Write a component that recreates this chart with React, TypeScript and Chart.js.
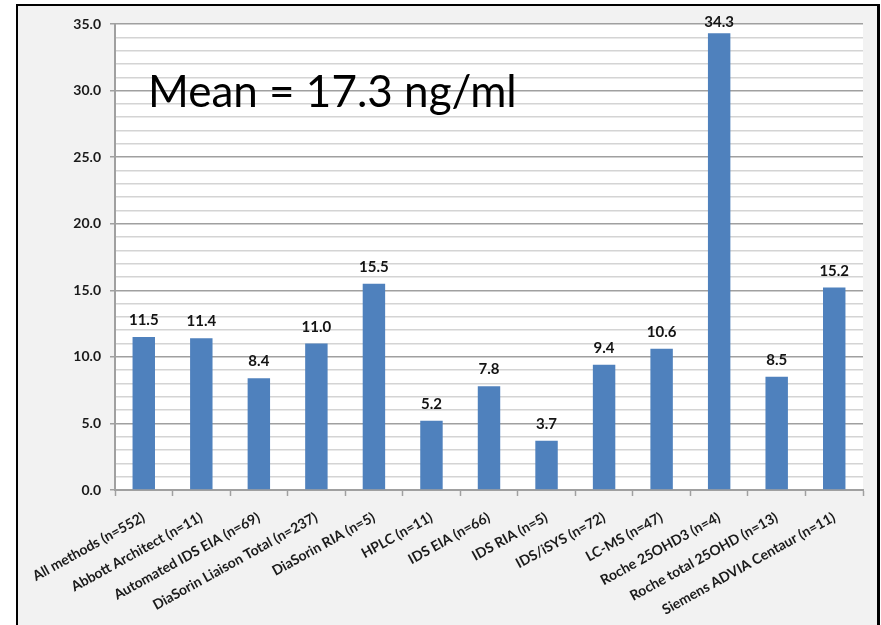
import React, { useEffect, useRef } from 'react';
import { Chart, registerables } from 'chart.js';

Chart.register(...registerables);

const categories = [
  'All methods (n=552)',
  'Abbott Architect (n=11)',
  'Automated IDS EIA (n=69)',
  'DiaSorin Liaison Total (n=237)',
  'DiaSorin RIA (n=5)',
  'HPLC (n=11)',
  'IDS EIA (n=66)',
  'IDS RIA (n=5)',
  'IDS/iSYS (n=72)',
  'LC-MS (n=47)',
  'Roche 25OHD3 (n=4)',
  'Roche total 25OHD (n=13)',
  'Siemens ADVIA Centaur (n=11)',
];
const values = [11.5, 11.4, 8.4, 11.0, 15.5, 5.2, 7.8, 3.7, 9.4, 10.6, 34.3, 8.5, 15.2];
const yMin = 0;
const yMax = 35;
const yMinorStep = 1;
const yMajorStep = 5;
const annotationText = 'Mean = 17.3 ng/ml';

const MAJOR = '#a0a0a0';
const MINOR = '#d4d4d4';

export default function App() {
  const ref = useRef<HTMLCanvasElement>(null);

  useEffect(() => {
    if (!ref.current) return;
    const overlay = {
      id: 'overlayText',
      afterDatasetsDraw(chart: any) {
        const ctx = chart.ctx;
        const area = chart.chartArea;
        const meta = chart.getDatasetMeta(0);
        ctx.save();
        ctx.font = 'bold 15px Lato';
        ctx.fillStyle = '#141414';
        ctx.textAlign = 'center';
        ctx.textBaseline = 'alphabetic';
        meta.data.forEach((bar: any, i: number) => {
          const y = Math.max(bar.y - 12, area.top + 3);
          ctx.fillText(values[i].toFixed(1), bar.x, y);
        });
        ctx.font = '44px Lato';
        ctx.fillStyle = '#000000';
        ctx.textAlign = 'left';
        ctx.fillText(annotationText, area.left + 33, area.top + 83);
        ctx.restore();
      },
    };

    const chart = new Chart(ref.current, {
      type: 'bar',
      data: {
        labels: categories,
        datasets: [
          {
            data: values,
            backgroundColor: '#4f81bd',
            borderWidth: 0,
            barPercentage: 0.39,
            categoryPercentage: 1.0,
          },
        ],
      },
      options: {
        animation: false,
        responsive: false,
        maintainAspectRatio: false,
        layout: { padding: { left: 60, right: 18, top: 24, bottom: 0 } },
        plugins: {
          legend: { display: false },
          tooltip: { enabled: false },
        },
        scales: {
          x: {
            afterFit(scale: any) {
              scale.height = 135;
            },
            grid: {
              drawOnChartArea: false,
              drawTicks: true,
              tickLength: 6,
              tickColor: MAJOR,
              tickWidth: 1.5,
              offset: true,
            },
            border: { display: true, color: MAJOR, width: 2 },
            ticks: {
              autoSkip: false,
              minRotation: 29,
              maxRotation: 29,
              padding: 13,
              color: '#1a1a1a',
              font: { family: 'Lato', size: 14, weight: 'bold' },
            },
          },
          y: {
            min: yMin,
            max: yMax,
            afterFit(scale: any) {
              scale.width = 55;
            },
            grid: {
              color: (c: any) => (c.tick && c.tick.value % yMajorStep === 0 ? MAJOR : MINOR),
              lineWidth: 1.5,
              drawTicks: true,
              tickLength: 5,
              tickColor: (c: any) => (c.tick && c.tick.value % yMajorStep === 0 ? MAJOR : 'rgba(0,0,0,0)'),
            },
            border: { display: true, color: MAJOR, width: 2 },
            ticks: {
              stepSize: yMinorStep,
              autoSkip: false,
              padding: 9,
              color: '#1a1a1a',
              font: { family: 'Lato', size: 14, weight: 'bold' },
              callback: (v: any) => (Number(v) % yMajorStep === 0 ? Number(v).toFixed(1) : ''),
            },
          },
        },
      },
      plugins: [overlay],
    });
    return () => chart.destroy();
  }, []);

  return (
    <div
      style={{
        position: 'fixed',
        left: 0,
        top: 0,
        width: 881,
        height: 625,
        background: '#ffffff',
        overflow: 'hidden',
      }}
    >
      <div
        style={{
          position: 'absolute',
          left: 16,
          top: 4,
          width: 864,
          height: 660,
          boxSizing: 'border-box',
          borderLeft: '2px solid #000',
          borderTop: '2px solid #000',
          borderRight: '3px solid #000',
          background: '#f2f2f2',
        }}
      />
      <div
        style={{
          position: 'absolute',
          left: 115,
          top: 24,
          width: 748,
          height: 466,
          background: '#ffffff',
        }}
      />
      <canvas
        ref={ref}
        width={881}
        height={625}
        style={{ position: 'absolute', left: 0, top: 0, width: 881, height: 625 }}
      />
    </div>
  );
}
